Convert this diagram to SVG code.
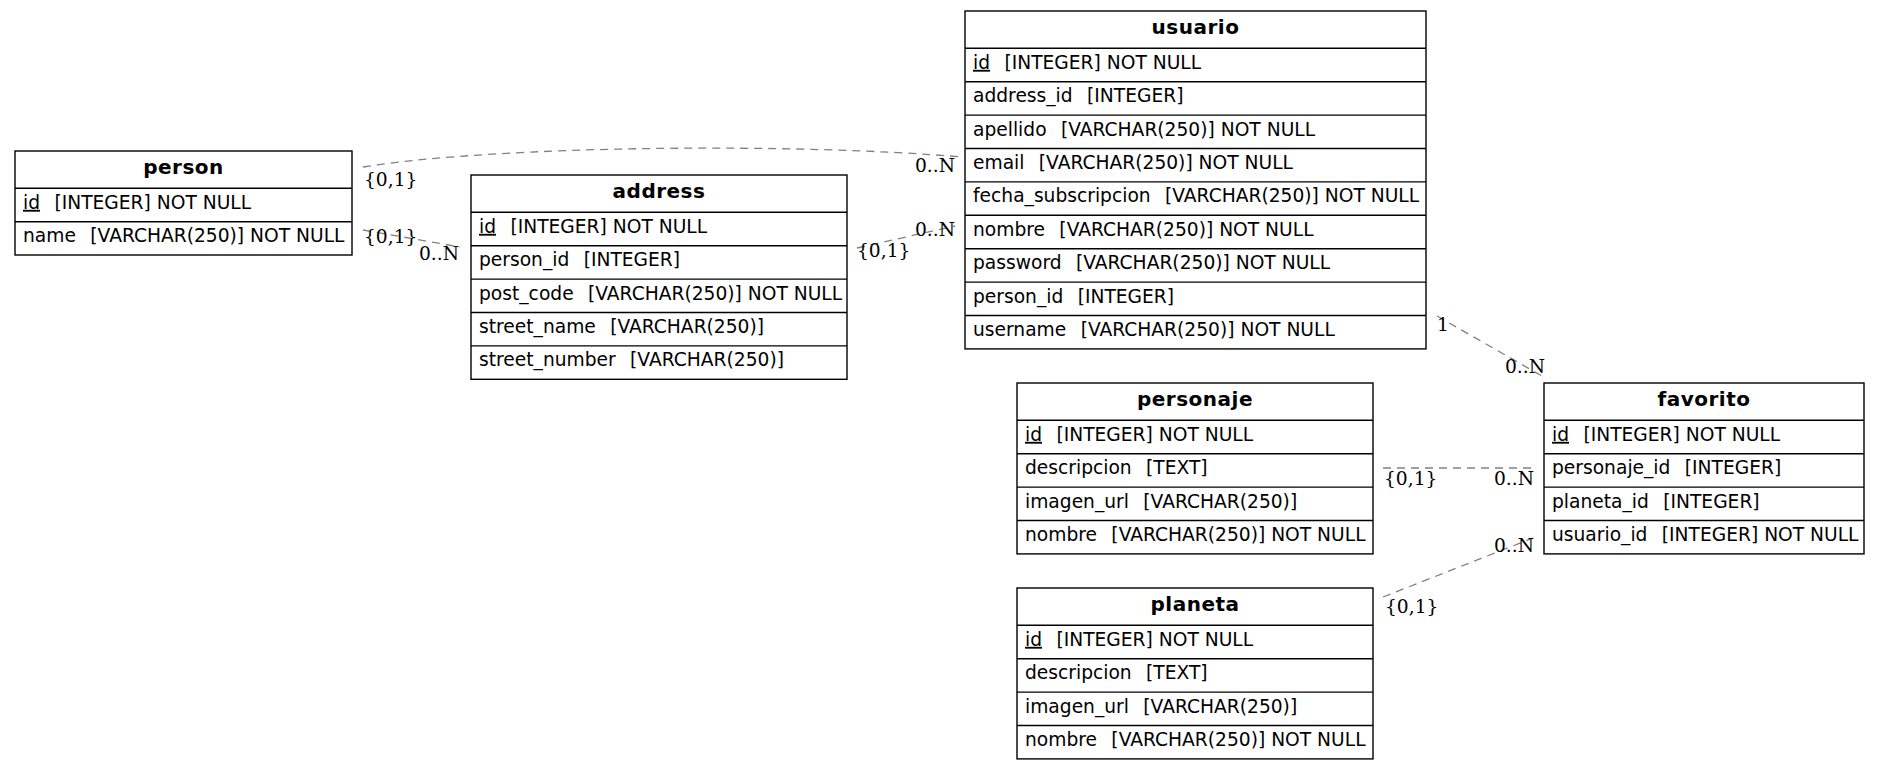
<svg xmlns="http://www.w3.org/2000/svg" width="1880" height="770" viewBox="0 0 1880 770">
<style>
.bg{fill:#fff}
.box{fill:#fff;stroke:#000;stroke-width:1.4}
.sep{stroke:#000;stroke-width:1.4}
.h{font-family:"DejaVu Sans",sans-serif;font-size:20px;letter-spacing:0.5px;font-weight:bold;text-anchor:middle;fill:#000}
.r{font-family:"DejaVu Sans",sans-serif;font-size:18.67px;fill:#000;white-space:pre}
.e{fill:none;stroke:#808080;stroke-width:1.3;stroke-dasharray:8,6}
.l{font-family:"DejaVu Serif",serif;font-size:18.67px;fill:#000}
.le{font-family:"DejaVu Serif",serif;font-size:18.67px;fill:#000;text-anchor:end}
.u{text-decoration:underline}
</style>
<rect class="bg" x="0" y="0" width="1880" height="770"/>
<g id="connectors">
<path class="e" d="M363,167 C500,145 800,143 962,157"/>
<path class="e" d="M363,230 L460,247"/>
<path class="e" d="M857,248 L955,226"/>
<path class="e" d="M1437,316 L1542,376"/>
<path class="e" d="M1383,468 L1533,468"/>
<path class="e" d="M1383,597 L1533,538"/>
<text class="l" x="364" y="186">{0,1}</text>
<text class="le" x="955" y="172">0..N</text>
<text class="l" x="364" y="243">{0,1}</text>
<text class="le" x="459" y="260">0..N</text>
<text class="l" x="857" y="257">{0,1}</text>
<text class="le" x="955" y="236">0..N</text>
<text class="l" x="1437" y="331">1</text>
<text class="le" x="1545" y="373">0..N</text>
<text class="l" x="1384" y="485">{0,1}</text>
<text class="le" x="1534" y="485">0..N</text>
<text class="l" x="1385" y="613">{0,1}</text>
<text class="le" x="1534" y="552">0..N</text>
</g>
<g id="person">
<rect class="box" x="15" y="151" width="337" height="104"/>
<line class="sep" x1="15" y1="188.3" x2="352" y2="188.3"/>
<line class="sep" x1="15" y1="221.7" x2="352" y2="221.7"/>
<text class="h" x="183.5" y="174">person</text>
<text class="r" x="23" y="208.8" xml:space="preserve"><tspan class="u">id</tspan>  <tspan dx="2.5">[INTEGER] NOT NULL</tspan></text>
<text class="r" x="23" y="242.2" xml:space="preserve">name  <tspan dx="2.5">[VARCHAR(250)] NOT NULL</tspan></text>
</g>
<g id="address">
<rect class="box" x="471" y="175" width="376" height="204.3"/>
<line class="sep" x1="471" y1="212.3" x2="847" y2="212.3"/>
<line class="sep" x1="471" y1="245.7" x2="847" y2="245.7"/>
<line class="sep" x1="471" y1="279.1" x2="847" y2="279.1"/>
<line class="sep" x1="471" y1="312.5" x2="847" y2="312.5"/>
<line class="sep" x1="471" y1="345.9" x2="847" y2="345.9"/>
<text class="h" x="659" y="198">address</text>
<text class="r" x="479" y="232.8" xml:space="preserve"><tspan class="u">id</tspan>  <tspan dx="2.5">[INTEGER] NOT NULL</tspan></text>
<text class="r" x="479" y="266.2" xml:space="preserve">person_id  <tspan dx="2.5">[INTEGER]</tspan></text>
<text class="r" x="479" y="299.6" xml:space="preserve">post_code  <tspan dx="2.5">[VARCHAR(250)] NOT NULL</tspan></text>
<text class="r" x="479" y="333" xml:space="preserve">street_name  <tspan dx="2.5">[VARCHAR(250)]</tspan></text>
<text class="r" x="479" y="366.4" xml:space="preserve">street_number  <tspan dx="2.5">[VARCHAR(250)]</tspan></text>
</g>
<g id="usuario">
<rect class="box" x="965" y="11" width="461" height="337.9"/>
<line class="sep" x1="965" y1="48.3" x2="1426" y2="48.3"/>
<line class="sep" x1="965" y1="81.7" x2="1426" y2="81.7"/>
<line class="sep" x1="965" y1="115.1" x2="1426" y2="115.1"/>
<line class="sep" x1="965" y1="148.5" x2="1426" y2="148.5"/>
<line class="sep" x1="965" y1="181.9" x2="1426" y2="181.9"/>
<line class="sep" x1="965" y1="215.3" x2="1426" y2="215.3"/>
<line class="sep" x1="965" y1="248.7" x2="1426" y2="248.7"/>
<line class="sep" x1="965" y1="282.1" x2="1426" y2="282.1"/>
<line class="sep" x1="965" y1="315.5" x2="1426" y2="315.5"/>
<text class="h" x="1195.5" y="34">usuario</text>
<text class="r" x="973" y="68.8" xml:space="preserve"><tspan class="u">id</tspan>  <tspan dx="2.5">[INTEGER] NOT NULL</tspan></text>
<text class="r" x="973" y="102.2" xml:space="preserve">address_id  <tspan dx="2.5">[INTEGER]</tspan></text>
<text class="r" x="973" y="135.6" xml:space="preserve">apellido  <tspan dx="2.5">[VARCHAR(250)] NOT NULL</tspan></text>
<text class="r" x="973" y="169" xml:space="preserve">email  <tspan dx="2.5">[VARCHAR(250)] NOT NULL</tspan></text>
<text class="r" x="973" y="202.4" xml:space="preserve">fecha_subscripcion  <tspan dx="2.5">[VARCHAR(250)] NOT NULL</tspan></text>
<text class="r" x="973" y="235.8" xml:space="preserve">nombre  <tspan dx="2.5">[VARCHAR(250)] NOT NULL</tspan></text>
<text class="r" x="973" y="269.2" xml:space="preserve">password  <tspan dx="2.5">[VARCHAR(250)] NOT NULL</tspan></text>
<text class="r" x="973" y="302.6" xml:space="preserve">person_id  <tspan dx="2.5">[INTEGER]</tspan></text>
<text class="r" x="973" y="336" xml:space="preserve">username  <tspan dx="2.5">[VARCHAR(250)] NOT NULL</tspan></text>
</g>
<g id="personaje">
<rect class="box" x="1017" y="383" width="356" height="170.9"/>
<line class="sep" x1="1017" y1="420.3" x2="1373" y2="420.3"/>
<line class="sep" x1="1017" y1="453.7" x2="1373" y2="453.7"/>
<line class="sep" x1="1017" y1="487.1" x2="1373" y2="487.1"/>
<line class="sep" x1="1017" y1="520.5" x2="1373" y2="520.5"/>
<text class="h" x="1195" y="406">personaje</text>
<text class="r" x="1025" y="440.8" xml:space="preserve"><tspan class="u">id</tspan>  <tspan dx="2.5">[INTEGER] NOT NULL</tspan></text>
<text class="r" x="1025" y="474.2" xml:space="preserve">descripcion  <tspan dx="2.5">[TEXT]</tspan></text>
<text class="r" x="1025" y="507.6" xml:space="preserve">imagen_url  <tspan dx="2.5">[VARCHAR(250)]</tspan></text>
<text class="r" x="1025" y="541" xml:space="preserve">nombre  <tspan dx="2.5">[VARCHAR(250)] NOT NULL</tspan></text>
</g>
<g id="planeta">
<rect class="box" x="1017" y="588" width="356" height="170.9"/>
<line class="sep" x1="1017" y1="625.3" x2="1373" y2="625.3"/>
<line class="sep" x1="1017" y1="658.7" x2="1373" y2="658.7"/>
<line class="sep" x1="1017" y1="692.1" x2="1373" y2="692.1"/>
<line class="sep" x1="1017" y1="725.5" x2="1373" y2="725.5"/>
<text class="h" x="1195" y="611">planeta</text>
<text class="r" x="1025" y="645.8" xml:space="preserve"><tspan class="u">id</tspan>  <tspan dx="2.5">[INTEGER] NOT NULL</tspan></text>
<text class="r" x="1025" y="679.2" xml:space="preserve">descripcion  <tspan dx="2.5">[TEXT]</tspan></text>
<text class="r" x="1025" y="712.6" xml:space="preserve">imagen_url  <tspan dx="2.5">[VARCHAR(250)]</tspan></text>
<text class="r" x="1025" y="746" xml:space="preserve">nombre  <tspan dx="2.5">[VARCHAR(250)] NOT NULL</tspan></text>
</g>
<g id="favorito">
<rect class="box" x="1544" y="383" width="320" height="170.9"/>
<line class="sep" x1="1544" y1="420.3" x2="1864" y2="420.3"/>
<line class="sep" x1="1544" y1="453.7" x2="1864" y2="453.7"/>
<line class="sep" x1="1544" y1="487.1" x2="1864" y2="487.1"/>
<line class="sep" x1="1544" y1="520.5" x2="1864" y2="520.5"/>
<text class="h" x="1704" y="406">favorito</text>
<text class="r" x="1552" y="440.8" xml:space="preserve"><tspan class="u">id</tspan>  <tspan dx="2.5">[INTEGER] NOT NULL</tspan></text>
<text class="r" x="1552" y="474.2" xml:space="preserve">personaje_id  <tspan dx="2.5">[INTEGER]</tspan></text>
<text class="r" x="1552" y="507.6" xml:space="preserve">planeta_id  <tspan dx="2.5">[INTEGER]</tspan></text>
<text class="r" x="1552" y="541" xml:space="preserve">usuario_id  <tspan dx="2.5">[INTEGER] NOT NULL</tspan></text>
</g>
</svg>
